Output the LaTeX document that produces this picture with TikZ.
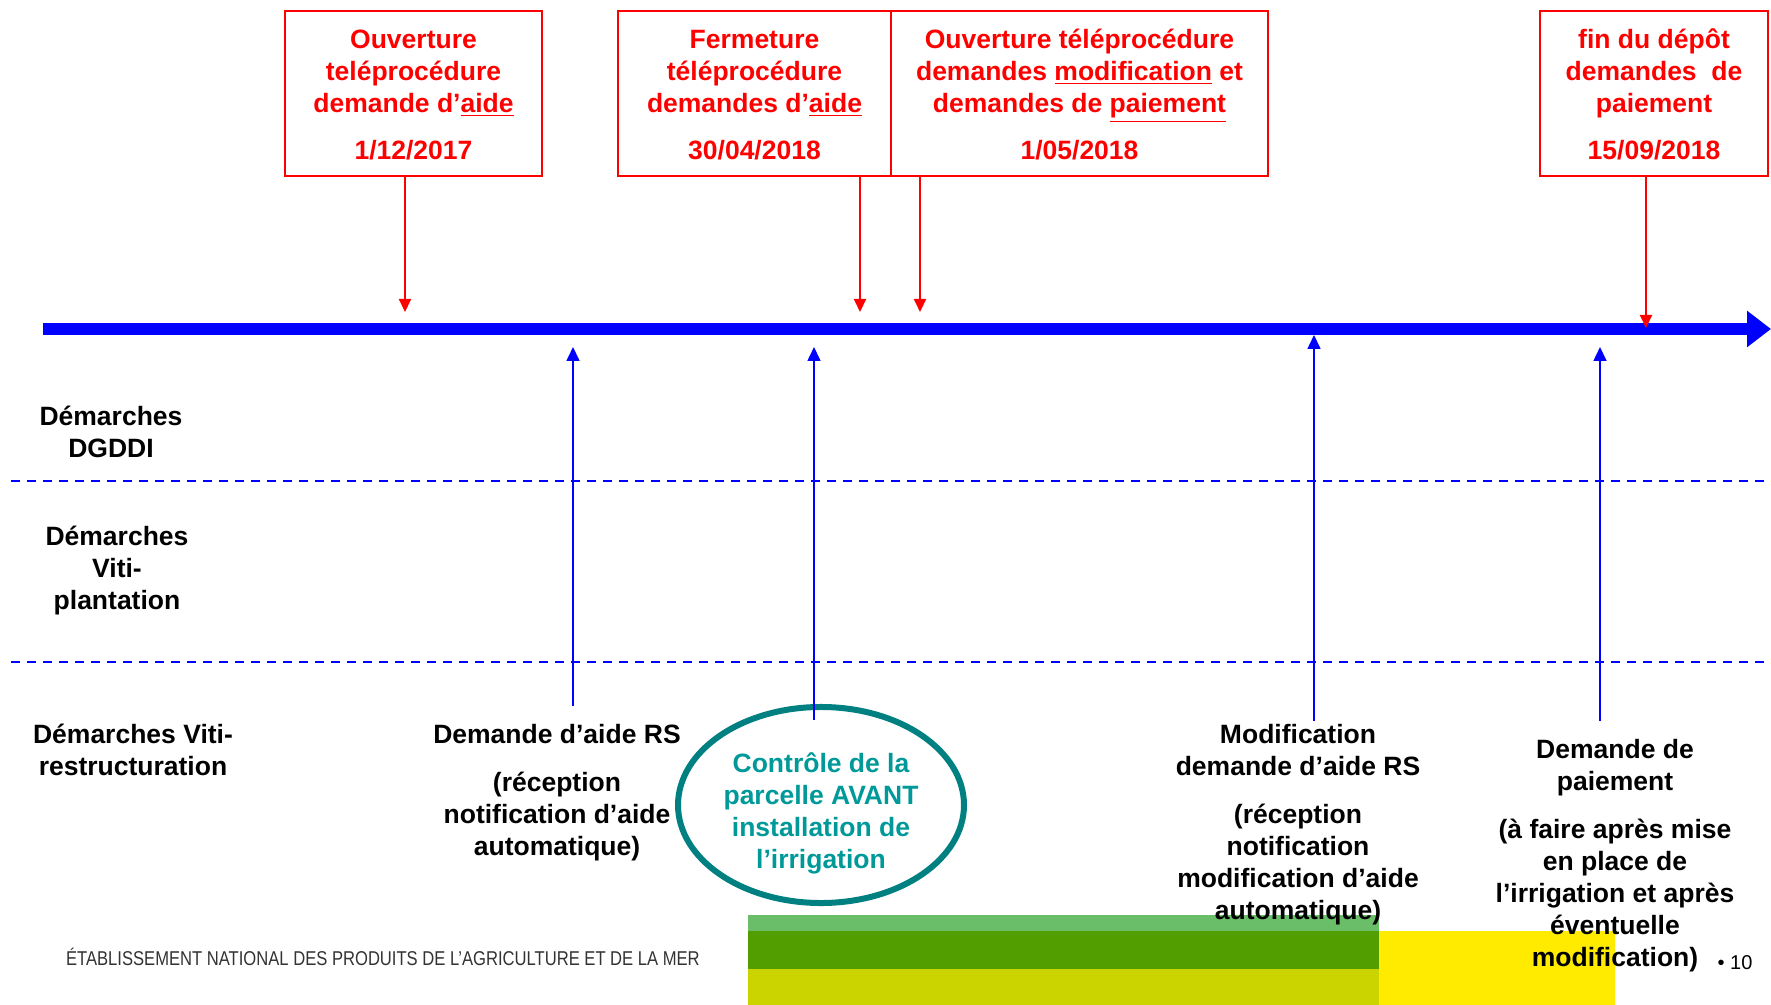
\documentclass[tikz,border=0pt]{standalone}
\usepackage{fontspec}
\setmainfont{Liberation Sans}
\newfontfamily\footfont[FakeStretch=0.83]{Liberation Sans}
\usepackage{tikz}
\usetikzlibrary{arrows.meta,calc,positioning,shapes.geometric}
\definecolor{tlblue}{RGB}{0,0,255}
\definecolor{ctrlteal}{RGB}{0,128,128}
\definecolor{ctrltext}{RGB}{0,153,153}
\definecolor{bandlight}{RGB}{106,190,106}
\definecolor{banddark}{RGB}{82,158,0}
\definecolor{bandolive}{RGB}{204,212,0}
\definecolor{bandyellow}{RGB}{255,235,0}
\tikzset{
  datebox/.style={draw=red, line width=1pt, text=red, align=center,
    font=\bfseries\fontsize{13.25}{16}\selectfont, minimum height=82.5pt, inner sep=0pt},
  lane/.style={align=center, font=\bfseries\fontsize{13.25}{16}\selectfont},
  redarrow/.style={red, line width=1pt, -{Triangle[length=6.5pt,width=6pt]}},
  bluearrow/.style={tlblue, line width=0.8pt, -{Triangle[length=7pt,width=6.5pt]}},
  sepline/.style={tlblue, line width=1pt, dash pattern=on 4.5pt off 3.5pt},
}

\begin{document}
\begin{tikzpicture}[x=0.5pt,y=-0.5pt]
			\useasboundingbox (0,0) rectangle (1771,1005);
			\fill[bandlight] (748,915) rectangle (1379,931);
			\fill[banddark] (748,931) rectangle (1379,969);
			\fill[bandolive] (748,969) rectangle (1379,1005);
			\fill[bandyellow] (1379,931) rectangle (1615,1005);
			\node[datebox, minimum width=128.5pt] (ouvaide) at (413.5,93.5) {\rule{0pt}{11pt}Ouverture\\teléprocédure\\demande d’\underline{aide}\\[7.5pt]1/12/2017};
			\node[datebox, minimum width=136.5pt] (fermaide) at (754.5,93.5) {\rule{0pt}{11pt}Fermeture\\téléprocédure\\demandes d’\underline{aide}\\[7.5pt]30/04/2018};
			\node[datebox, minimum width=188.5pt] (ouvmodif) at (1079.5,93.5) {\rule{0pt}{11pt}Ouverture téléprocédure\\demandes \underline{modification} et\\demandes de \underline{paiement}\\[7.5pt]1/05/2018};
			\node[datebox, minimum width=114pt] (findepot) at (1654,93.5) {\rule{0pt}{11pt}fin du dépôt\\demandes~ de\\paiement\\[7.5pt]15/09/2018};
			\coordinate (tlstart) at (43,329);
			\coordinate (tlend) at (1771,329);
			\draw[tlblue, line width=6pt, -{Triangle[length=12pt,width=17.5pt]}] (tlstart) to (tlend);
			\coordinate (r1) at (405,312);
			\coordinate (r2) at (860,312);
			\coordinate (r3) at (920,312);
			\coordinate (r4) at (1646,328);
			\draw[redarrow] (ouvaide.south -| r1) to (r1);
			\draw[redarrow] (fermaide.south -| r2) to (r2);
			\draw[redarrow] (ouvmodif.south -| r3) to (r3);
			\draw[redarrow] (findepot.south -| r4) to (r4);
			\coordinate (sep1l) at (11,481);
			\coordinate (sep1r) at (1771,481);
			\coordinate (sep2l) at (11,662);
			\coordinate (sep2r) at (1771,662);
			\draw[sepline] (sep1l) to (sep1r);
			\draw[sepline] (sep2l) to (sep2r);
			\node[lane] (dgddi) at (111,432) {Démarches\\DGDDI};
			\node[lane] (plantation) at (117,571) {Démarches\\Viti-\\plantation};
			\node[lane] (restructuration) at (133,750) {Démarches Viti-\\restructuration};
			\node[lane] (demaide) at (557,793) {Demande d’aide RS\\[8pt](réception\\notification d’aide\\automatique)};
			\node[ellipse, draw=ctrlteal, line width=3pt, minimum width=143pt, minimum height=98pt, inner sep=0pt,
			  text=ctrltext, lane] (controle) at (821,805) {\rule{0pt}{18.5pt}Contrôle de la\\parcelle AVANT\\installation de\\l’irrigation};
			\node[lane] (modifaide) at (1298,824.5) {Modification\\demande d’aide RS\\[8pt](réception\\notification\\modification d’aide\\automatique)};
			\node[lane] (paiement) at (1615,856) {Demande de\\paiement\\[8pt](à faire après mise\\en place de\\l’irrigation et après\\éventuelle\\modification)};
			\coordinate (b1) at (573,347);
			\coordinate (b2) at (814,347);
			\coordinate (b3) at (1314,335);
			\coordinate (b4) at (1600,347);
			\draw[bluearrow] ([yshift=6pt]demaide.north -| b1) to (b1);
			\draw[bluearrow] ([yshift=-8pt]controle.north -| b2) to (b2);
			\draw[bluearrow] ([yshift=-2pt]modifaide.north -| b3) to (b3);
			\draw[bluearrow] ([yshift=6pt]paiement.north -| b4) to (b4);
			\node[anchor=west, text=black!80, font=\footfont\fontsize{10}{12}\selectfont] (footer) at (59,957) {ÉTABLISSEMENT NATIONAL DES PRODUITS DE L’AGRICULTURE ET DE LA MER};
			\node[font=\fontsize{10}{12}\selectfont] (pagenum) at (1735,963) {• 10};
\end{tikzpicture}
\end{document}
